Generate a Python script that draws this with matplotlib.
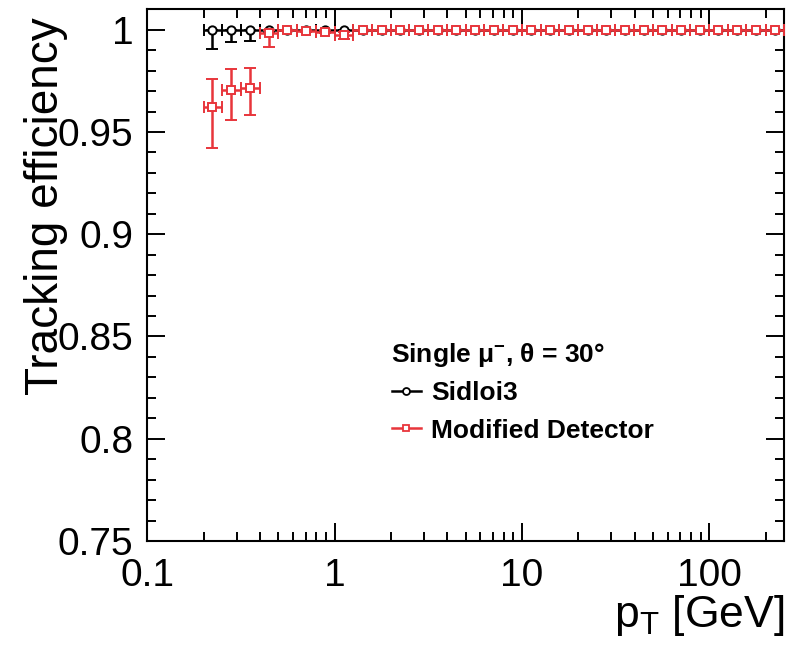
import matplotlib
matplotlib.use("Agg")
import matplotlib.pyplot as plt
from matplotlib.lines import Line2D
import numpy as np

plt.rcParams.update({
    "font.family": ["Liberation Sans", "DejaVu Sans"],
    "mathtext.fontset": "custom",
    "mathtext.rm": "Liberation Sans",
    "mathtext.it": "Liberation Sans",
    "mathtext.bf": "Liberation Sans:bold",
})

# ---- data ----
pt_edges = [0.2, 0.251, 0.316, 0.398, 0.501, 0.631, 0.794, 1.0, 1.26, 1.58, 2.0,
            2.51, 3.16, 3.98, 5.01, 6.31, 7.94, 10.0, 12.6, 15.8, 20.0,
            25.1, 31.6, 39.8, 50.1, 63.1, 79.4, 100.0, 126.0, 158.0, 200.0, 251.0]
pt_centers = [0.222, 0.280, 0.352, 0.444, 0.559, 0.704, 0.886, 1.12, 1.41, 1.78, 2.24,
              2.82, 3.55, 4.47, 5.62, 7.08, 8.91, 11.2, 14.1, 17.8, 22.4,
              28.2, 35.5, 44.7, 56.2, 70.8, 89.1, 112.0, 141.0, 178.0, 224.0]

sid_eff = [1.0] * 31
sid_err_lo = [0.0096, 0.0062, 0.0056, 0.0015] + [0.0] * 27
sid_err_hi = [0.0] * 31

mod_eff = [0.962, 0.9705, 0.9716, 0.9982, 1.0, 0.9995, 0.999, 0.9975] + [1.0] * 23
mod_err_lo = [0.020, 0.0147, 0.0133, 0.0068, 0.0008, 0.0008, 0.0008, 0.0018] + [0.0] * 23
mod_err_hi = [0.014, 0.0101, 0.0098, 0.0018, 0.0, 0.0005, 0.0008, 0.0015] + [0.0] * 23

edges = np.array(pt_edges)
xc = np.array(pt_centers)
xerr = [xc - edges[:-1], edges[1:] - xc]

RED = "#e8353b"

fig = plt.figure(figsize=(7.94, 6.5), dpi=100, facecolor="white")
ax = fig.add_axes([0.1855, 0.1677, 0.802, 0.818])

ax.errorbar(xc, sid_eff, xerr=xerr, yerr=[sid_err_lo, sid_err_hi],
            fmt="o", color="black", mfc="white", mec="black", ms=6, mew=1.4,
            elinewidth=1.8, capsize=4, capthick=1.8, zorder=3)
ax.errorbar(xc, mod_eff, xerr=xerr, yerr=[mod_err_lo, mod_err_hi],
            fmt="s", color=RED, mfc="white", mec=RED, ms=5.5, mew=1.4,
            elinewidth=1.8, capsize=4, capthick=1.8, zorder=4)

ax.set_xscale("log")
ax.set_xlim(0.1, 251)
ax.set_ylim(0.75, 1.01)
ax.set_yticks([0.75, 0.8, 0.85, 0.9, 0.95, 1.0])
ax.set_yticklabels(["0.75", "0.8", "0.85", "0.9", "0.95", "1"])
ax.set_yticks(np.arange(0.75, 1.005, 0.01), minor=True)
ax.set_xticks([0.1, 1, 10, 100])
ax.set_xticklabels(["0.1", "1", "10", "100"])

for s in ax.spines.values():
    s.set_linewidth(1.5)
ax.tick_params(which="both", direction="in", top=True, right=True, width=1.4,
               labelsize=28)
ax.tick_params(which="major", length=13)
ax.tick_params(which="minor", length=6.5)
ax.tick_params(axis="x", which="both", pad=12)
ax.tick_params(axis="y", which="both", pad=10)

ax.set_ylabel("Tracking efficiency", fontsize=33, ha="right")
ax.yaxis.set_label_coords(-0.125, 0.985)
ax.set_xlabel(r"$\mathregular{p_{T}}$ [GeV]", fontsize=32, ha="right")
ax.xaxis.set_label_coords(1.0, -0.097)

ax.text(0.382, 0.350, "Single μ$^{\\mathbf{-}}$, θ = 30°", transform=ax.transAxes,
        fontsize=19, fontweight="bold", ha="left", va="center")
handles = [
    Line2D([], [], color="black", lw=1.8, marker="o", ms=5, mfc="white", mec="black",
           mew=1.3, label="Sidloi3"),
    Line2D([], [], color=RED, lw=1.8, marker="s", ms=5, mfc="white", mec=RED,
           mew=1.3, label="Modified Detector"),
]
ax.legend(handles=handles, loc="upper left", bbox_to_anchor=(0.384, 0.30),
          frameon=False, borderpad=0, borderaxespad=0, handlelength=1.1,
          handletextpad=0.4, labelspacing=0.5,
          prop={"size": 19, "weight": "bold"})

fig.savefig("out.png", dpi=100, facecolor="white")
